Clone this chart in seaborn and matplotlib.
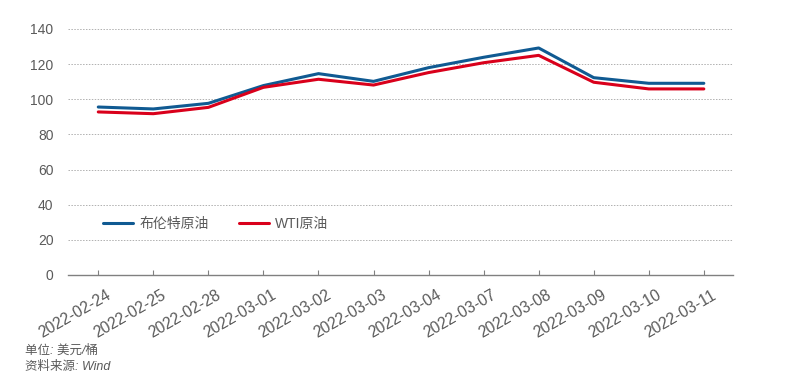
import pandas as pd
import seaborn as sns
import matplotlib.pyplot as plt
from matplotlib.transforms import ScaledTranslation

# 数据 (美元/桶)
dates = ['2022-02-24', '2022-02-25', '2022-02-28', '2022-03-01', '2022-03-02', '2022-03-03',
         '2022-03-04', '2022-03-07', '2022-03-08', '2022-03-09', '2022-03-10', '2022-03-11']
brent = [95.6, 94.5, 97.7, 107.8, 114.6, 110.2, 118.0, 123.9, 129.2, 112.3, 109.1, 109.1]
wti = [92.8, 91.8, 95.4, 106.8, 111.4, 108.1, 115.2, 120.8, 125.0, 109.7, 105.9, 105.9]
series_names = ['布伦特原油', 'WTI原油']
colors = ['#105a92', '#d9001b']

df = pd.DataFrame({
    'date': dates * 2,
    'price': brent + wti,
    'name': [series_names[0]] * len(dates) + [series_names[1]] * len(dates),
})

sns.set_theme(style='white')
plt.rcParams['font.family'] = ['Liberation Sans', 'Noto Sans CJK SC', 'DejaVu Sans']
grey = '#5a5a5a'

fig = plt.figure(figsize=(7.89, 3.83), dpi=100)
ax = fig.add_axes([68 / 789, 1 - 275 / 383, 665 / 789, 246 / 383])

sns.lineplot(data=df, x='date', y='price', hue='name', palette=colors,
             linewidth=2.2, sort=False, ax=ax)

ax.set_ylim(0, 140)
ax.set_yticks(range(0, 141, 20))
ax.set_xlim(-0.55, len(dates) - 0.47)
ax.yaxis.grid(True, color='#b0b0b0', linestyle=(0, (1.5, 1.5)), linewidth=0.7)
ax.xaxis.grid(False)
ax.set_axisbelow(True)
for side in ['top', 'right', 'left']:
    ax.spines[side].set_visible(False)
ax.spines['bottom'].set_color('#808080')
ax.spines['bottom'].set_linewidth(1.0)

ax.tick_params(axis='y', length=0, labelsize=10, labelcolor=grey, pad=10.5)
ax.tick_params(axis='x', bottom=True, direction='in', length=3.6, width=0.8,
               color='#808080', labelsize=11.3, labelcolor=grey, pad=9)
ax.set_xlabel('')
ax.set_ylabel('')
shift = ScaledTranslation(15 / 100, 0, fig.dpi_scale_trans)
for lab in ax.get_xticklabels():
    lab.set_rotation(30)
    lab.set_ha('right')
    lab.set_transform(lab.get_transform() + shift)

ax.legend(loc='center left', bbox_to_anchor=(0.034, 0.207), ncol=2, frameon=False,
          fontsize=10, labelcolor=grey, handlelength=2.15, handletextpad=0.45,
          columnspacing=2.2)

fig.text(25 / 789, 1 - 351 / 383, '单位: 美元/桶', fontsize=9, color=grey,
         va='center', style='italic')
fig.text(25 / 789, 1 - 367 / 383, '资料来源: Wind', fontsize=9, color=grey,
         va='center', style='italic')

fig.savefig('out.png', dpi=100)
